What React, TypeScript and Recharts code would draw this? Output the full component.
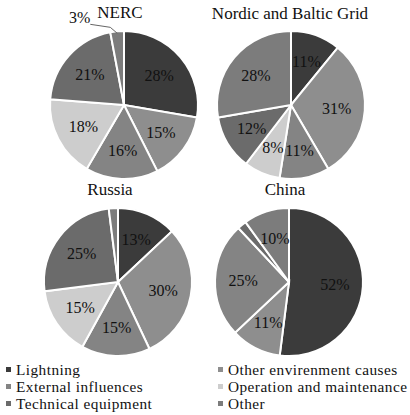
import { PieChart, Pie, Cell } from 'recharts'

const causes = [
  'Lightning',
  'Other envirenment causes',
  'External influences',
  'Operation and maintenance',
  'Technical equipment',
  'Other',
]
// legend is laid out row-wise in two columns
const legendOrder = [0, 1, 2, 3, 4, 5]

const regions = ['NERC', 'Nordic and Baltic Grid', 'Russia', 'China']
const nerc = [28, 15, 16, 18, 21, 3]
const nordic = [11, 31, 11, 8, 12, 28]
const russia = [13, 30, 15, 15, 25, 2]
const china = [52, 11, 25, 0, 2, 10]
const regionValues = [nerc, nordic, russia, china]

const colors = ['#3b3b3b', '#8e8e8e', '#848484', '#cdcdcd', '#6b6b6b', '#7c7c7c']

const serif = "'Liberation Serif', 'Times New Roman', serif"

const centers = [
  { cx: 119, cy: 100 },
  { cx: 286, cy: 100 },
  { cx: 113, cy: 277 },
  { cx: 284, cy: 277 },
]
const titlePos = [
  { x: 120, y: 13 },
  { x: 290, y: 14 },
  { x: 110, y: 190 },
  { x: 285, y: 190 },
]
const R = 74
const RAD = Math.PI / 180

function renderLabel(props: any) {
  const { cx, cy, midAngle, outerRadius, value } = props
  if (!value) return null
  if (value < 5) {
    // only the NERC "Other" slice carries an outside label
    if (props.showSmall !== true) return null
    const sx = cx + (outerRadius - 2) * Math.cos(-midAngle * RAD)
    const sy = cy + (outerRadius - 2) * Math.sin(-midAngle * RAD)
    const ex = sx - 27
    const ey = sy - 9
    return (
      <g>
        <polyline points={`${sx},${sy} ${sx - 7},${sy - 6} ${ex},${ey}`} stroke="#666" fill="none" strokeWidth={1} />
        <text x={ex} y={ey - 1} textAnchor="end" fontFamily={serif} fontSize={16} fill="#111">
          {value}%
        </text>
      </g>
    )
  }
  const r = outerRadius * 0.62
  const x = cx + r * Math.cos(-midAngle * RAD)
  const y = cy + r * Math.sin(-midAngle * RAD)
  return (
    <text x={x} y={y} textAnchor="middle" dominantBaseline="central" fontFamily={serif} fontSize={16} fill="#111">
      {value}%
    </text>
  )
}

export default function App() {
  return (
    <div style={{ position: 'absolute', left: 0, top: 0, width: 410, height: 415, background: '#fff', fontFamily: serif }}>
      <PieChart width={410} height={360} style={{ position: 'absolute', left: 0, top: 0 }}>
        {regionValues.map((vals, i) => {
          const data = causes.map((c, k) => ({ name: c, value: vals[k] }))
          return (
            <Pie
              key={regions[i]}
              data={data}
              dataKey="value"
              cx={centers[i].cx}
              cy={centers[i].cy}
              outerRadius={R}
              startAngle={90}
              endAngle={-270}
              stroke="#fff"
              strokeWidth={2}
              labelLine={false}
              label={(p: any) => renderLabel({ ...p, showSmall: i === 0 })}
              isAnimationActive={false}
            >
              {data.map((d, k) => (
                <Cell key={d.name} fill={colors[k]} />
              ))}
            </Pie>
          )
        })}
      </PieChart>
      {regions.map((r, i) => (
        <div
          key={r}
          style={{
            position: 'absolute',
            left: titlePos[i].x - 100,
            top: titlePos[i].y - 10,
            width: 200,
            textAlign: 'center',
            fontSize: 17,
            color: '#111',
            lineHeight: '20px',
          }}
        >
          {r}
        </div>
      ))}
      <div
        style={{
          position: 'absolute',
          left: 6,
          top: 361,
          width: 404,
          display: 'grid',
          gridTemplateColumns: '212px 192px',
          fontSize: 15.3,
          letterSpacing: 0.45,
          lineHeight: '17px',
          color: '#111',
          whiteSpace: 'nowrap',
        }}
      >
        {legendOrder.map((k) => (
          <div key={causes[k]} style={{ display: 'flex', alignItems: 'center' }}>
            <span style={{ display: 'inline-block', width: 5, height: 5, background: colors[k], marginRight: 5 }} />
            {causes[k]}
          </div>
        ))}
      </div>
    </div>
  )
}
